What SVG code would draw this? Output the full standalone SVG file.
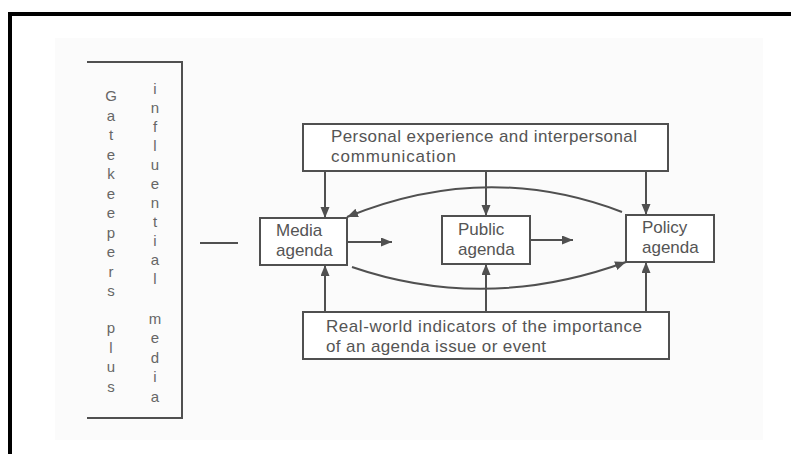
<svg xmlns="http://www.w3.org/2000/svg" width="791" height="454" viewBox="0 0 791 454">
<style>
.ln{fill:none;stroke:#505050;stroke-width:2}
.bx{fill:#ffffff;stroke:#505050;stroke-width:2}
.t{font-family:"Liberation Sans",Arial,sans-serif;font-size:17px;fill:#555555}
.v{font-family:"Liberation Sans",Arial,sans-serif;font-size:15px;fill:#666666;text-anchor:middle}
</style>
<defs>
<marker id="ah" markerUnits="userSpaceOnUse" markerWidth="12" markerHeight="10" refX="11" refY="4.5" orient="auto">
<path d="M0,0 L11,4.5 L0,9 z" fill="#505050"/>
</marker>
</defs>
<rect x="0" y="0" width="791" height="454" fill="#ffffff"/>
<rect x="55" y="38" width="708" height="402" fill="#fbfbfb"/>
<path d="M10,454 V14 H791" fill="none" stroke="#000" stroke-width="4"/>

<g id="bracket">
<path class="ln" d="M87,62 H182 V418 H87"/>
<text class="v"><tspan x="111" y="101">G</tspan><tspan x="111" y="120.5">a</tspan><tspan x="111" y="140">t</tspan><tspan x="111" y="159.5">e</tspan><tspan x="111" y="179">k</tspan><tspan x="111" y="198.5">e</tspan><tspan x="111" y="218">e</tspan><tspan x="111" y="237.5">p</tspan><tspan x="111" y="257">e</tspan><tspan x="111" y="276.5">r</tspan><tspan x="111" y="296">s</tspan><tspan x="111" y="333">p</tspan><tspan x="111" y="352.5">l</tspan><tspan x="111" y="372">u</tspan><tspan x="111" y="391.5">s</tspan></text>
<text class="v"><tspan x="155" y="94">i</tspan><tspan x="155" y="113">n</tspan><tspan x="155" y="132">f</tspan><tspan x="155" y="151">l</tspan><tspan x="155" y="170">u</tspan><tspan x="155" y="189">e</tspan><tspan x="155" y="208">n</tspan><tspan x="155" y="227">t</tspan><tspan x="155" y="246">i</tspan><tspan x="155" y="265">a</tspan><tspan x="155" y="284">l</tspan><tspan x="155" y="324">m</tspan><tspan x="155" y="343">e</tspan><tspan x="155" y="363">d</tspan><tspan x="155" y="382">i</tspan><tspan x="155" y="402">a</tspan></text>
</g>

<g id="top">
<rect class="bx" x="303" y="124" width="365" height="47"/>
<text class="t" x="331" y="142" textLength="306" lengthAdjust="spacing">Personal experience and interpersonal</text>
<text class="t" x="331" y="162" textLength="125" lengthAdjust="spacing">communication</text>
</g>

<g id="media">
<rect class="bx" x="260" y="218" width="87" height="47"/>
<text class="t" x="276" y="236">Media</text>
<text class="t" x="276" y="256">agenda</text>
</g>

<g id="public">
<rect class="bx" x="442" y="216" width="88" height="48"/>
<text class="t" x="458" y="235">Public</text>
<text class="t" x="458" y="255">agenda</text>
</g>

<g id="policy">
<rect class="bx" x="626" y="215" width="88" height="47"/>
<text class="t" x="642" y="233">Policy</text>
<text class="t" x="642" y="253">agenda</text>
</g>

<g id="bottom">
<rect class="bx" x="303" y="312" width="366" height="47"/>
<text class="t" x="326" y="332" textLength="316" lengthAdjust="spacing">Real-world indicators of the importance</text>
<text class="t" x="326" y="352" textLength="220" lengthAdjust="spacing">of an agenda issue or event</text>
</g>

<g id="connectors">
<path class="ln" d="M200,243 H238"/>
<path class="ln" marker-end="url(#ah)" d="M325,171 V218"/>
<path class="ln" marker-end="url(#ah)" d="M486,171 V216"/>
<path class="ln" marker-end="url(#ah)" d="M646,171 V215"/>
<path class="ln" marker-end="url(#ah)" d="M325,312 V265"/>
<path class="ln" marker-end="url(#ah)" d="M486,312 V264"/>
<path class="ln" marker-end="url(#ah)" d="M646,312 V262"/>
<path class="ln" marker-end="url(#ah)" d="M347,242 H392"/>
<path class="ln" marker-end="url(#ah)" d="M530,240 H573"/>
<path class="ln" marker-end="url(#ah)" d="M622,212 Q486,160 347,217"/>
<path class="ln" marker-end="url(#ah)" d="M352,267 Q486,313 626,262"/>
</g>
</svg>
